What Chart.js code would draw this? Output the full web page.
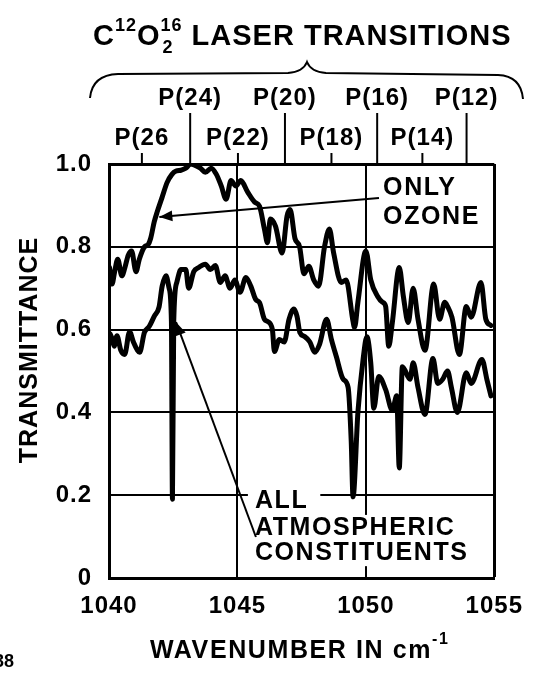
<!DOCTYPE html>
<html>
<head>
<meta charset="utf-8">
<script src="https://cdn.jsdelivr.net/npm/chart.js@4.4.1/dist/chart.umd.min.js"></script>
<style>
  html, body { margin: 0; padding: 0; background: #fff; }
</style>
</head>
<body>
<canvas id="chart" width="535" height="673"></canvas>
<script>
// spectra (wavenumber in cm-1, transmittance)
const ozoneWavenumber = [1040.02, 1040.12, 1040.22, 1040.34, 1040.5, 1040.62, 1040.75, 1040.88, 1041.05, 1041.18,
  1041.38, 1041.52, 1041.62, 1041.76, 1041.88, 1042.07, 1042.26, 1042.45, 1042.61, 1042.8,
  1042.99, 1043.18, 1043.4, 1043.56, 1043.75, 1043.98, 1044.18, 1044.37, 1044.56, 1044.75,
  1044.94, 1045.13, 1045.4, 1045.67, 1045.86, 1046.05, 1046.17, 1046.28, 1046.48, 1046.74,
  1046.93, 1047.05, 1047.24, 1047.42, 1047.59, 1047.78, 1047.97, 1048.16, 1048.39, 1048.58,
  1048.74, 1049.04, 1049.23, 1049.5, 1049.56, 1049.69, 1050.0, 1050.19, 1050.46, 1050.65,
  1050.77, 1050.89, 1051.03, 1051.3, 1051.46, 1051.65, 1051.84, 1052.03, 1052.3, 1052.64,
  1052.87, 1053.07, 1053.18, 1053.35, 1053.64, 1053.91, 1054.1, 1054.48, 1054.67, 1054.87]
const ozoneTransmittance = [0.75, 0.71, 0.74, 0.77, 0.73, 0.75, 0.78, 0.79, 0.74, 0.77,
  0.80, 0.805, 0.82, 0.86, 0.885, 0.92, 0.955, 0.975, 0.983, 0.985,
  0.99, 1.0, 0.995, 0.99, 0.98, 0.99, 0.975, 0.947, 0.915, 0.96,
  0.947, 0.96, 0.932, 0.908, 0.898, 0.843, 0.81, 0.867, 0.85, 0.785,
  0.874, 0.89, 0.82, 0.80, 0.735, 0.753, 0.72, 0.705, 0.80, 0.843,
  0.787, 0.714, 0.72, 0.62, 0.605, 0.666, 0.79, 0.72, 0.68, 0.666,
  0.656, 0.56, 0.617, 0.75, 0.68, 0.617, 0.70, 0.625, 0.55, 0.71,
  0.625, 0.666, 0.656, 0.63, 0.54, 0.656, 0.63, 0.714, 0.625, 0.61]

const allWavenumber = [1040.04, 1040.11, 1040.2, 1040.31, 1040.46, 1040.61, 1040.8, 1040.95, 1041.11, 1041.19,
  1041.38, 1041.57, 1041.76, 1041.95, 1042.07, 1042.22, 1042.34, 1042.43, 1042.47, 1042.52,
  1042.64, 1042.8, 1042.99, 1043.1, 1043.3, 1043.49, 1043.75, 1043.95, 1044.14, 1044.33,
  1044.52, 1044.71, 1044.9, 1045.1, 1045.33, 1045.52, 1045.71, 1045.86, 1046.05, 1046.17,
  1046.36, 1046.44, 1046.63, 1046.82, 1047.01, 1047.2, 1047.32, 1047.43, 1047.62, 1047.82,
  1048.01, 1048.2, 1048.47, 1048.66, 1048.85, 1049.12, 1049.31, 1049.43, 1049.5, 1049.69,
  1049.89, 1050.04, 1050.19, 1050.31, 1050.5, 1050.77, 1051.03, 1051.2, 1051.3, 1051.42,
  1051.72, 1051.84, 1052.03, 1052.3, 1052.61, 1052.8, 1052.99, 1053.18, 1053.33, 1053.56,
  1053.91, 1054.1, 1054.52, 1054.71, 1054.87]
const allTransmittance = [0.59, 0.58, 0.56, 0.585, 0.55, 0.54, 0.595, 0.57, 0.55, 0.545,
  0.593, 0.608, 0.632, 0.655, 0.705, 0.73, 0.70, 0.62, 0.19, 0.62,
  0.714, 0.745, 0.745, 0.70, 0.74, 0.75, 0.758, 0.745, 0.755, 0.714,
  0.73, 0.70, 0.72, 0.69, 0.726, 0.705, 0.673, 0.665, 0.625, 0.62,
  0.60, 0.547, 0.576, 0.57, 0.625, 0.65, 0.632, 0.593, 0.583, 0.57,
  0.545, 0.565, 0.625, 0.576, 0.535, 0.48, 0.46, 0.33, 0.196, 0.40,
  0.527, 0.583, 0.52, 0.41, 0.487, 0.455, 0.405, 0.44, 0.266, 0.51,
  0.48, 0.52, 0.46, 0.395, 0.53, 0.47, 0.48, 0.50, 0.46, 0.40,
  0.496, 0.47, 0.528, 0.48, 0.44]

// CO2 laser lines along the top (label as printed)
const laserLabels = ['P(12)', 'P(14)', 'P(16)', 'P(18)', 'P(20)', 'P(22)', 'P(24)', 'P(26']
const laserWavenumber = [1053.92, 1052.20, 1050.44, 1048.66, 1046.85, 1045.02, 1043.16, 1041.28]

const xTicks = [1040, 1045, 1050, 1055]
const yTicks = [0, 0.2, 0.4, 0.6, 0.8, 1.0]

const FAMILY = "'Liberation Sans', Arial, Helvetica, sans-serif"
const bold = size => `bold ${size}px ${FAMILY}`

// annotation anchors, in axis units
const ozoneNote = { x: 1050.67, y: [0.942, 0.872], lines: ['ONLY', 'OZONE'] }
const ozoneArrow = { from: [1050.51, 0.918], to: [1041.96, 0.872] }
const allNote = { x: 1045.68, y: [0.186, 0.121, 0.06], lines: ['ALL', 'ATMOSPHERIC', 'CONSTITUENTS'] }
const allArrow = { from: [1045.72, 0.099], to: [1042.61, 0.618] }

function toPoints(xs, ys) {
    return xs.map((x, i) => ({ x: x, y: ys[i] }))
}

function arrow(ctx, x1, y1, x2, y2, head) {
    const a = Math.atan2(y2 - y1, x2 - x1)
    const c = Math.cos(a), s = Math.sin(a)
    ctx.beginPath()
    ctx.moveTo(x1, y1)
    ctx.lineTo(x2, y2)
    ctx.stroke()
    ctx.beginPath()
    ctx.moveTo(x2, y2)
    ctx.lineTo(x2 - head * c + head * 0.42 * s, y2 - head * s - head * 0.42 * c)
    ctx.lineTo(x2 - head * c - head * 0.42 * s, y2 - head * s + head * 0.42 * c)
    ctx.closePath()
    ctx.fill()
}

const decorations = {
    id: 'decorations',
    beforeDraw(chart) {
        chart.ctx.letterSpacing = '1px'
    },
    afterDatasetsDraw(chart) {
        const ctx = chart.ctx
        const xs = chart.scales.x, ys = chart.scales.y
        const area = chart.chartArea
        ctx.save()
        ctx.fillStyle = '#000'
        ctx.strokeStyle = '#000'
        ctx.letterSpacing = '1px'

        // laser line ticks and labels above the plot
        ctx.lineWidth = 2
        ctx.textAlign = 'center'
        ctx.textBaseline = 'alphabetic'
        ctx.font = bold(24)
        laserWavenumber.forEach((w, i) => {
            const px = xs.getPixelForValue(w)
            const long = i % 2 === 0
            ctx.beginPath()
            ctx.moveTo(px, area.top)
            ctx.lineTo(px, long ? 113 : 153)
            ctx.stroke()
            ctx.fillText(laserLabels[i], px, long ? 105 : 145)
        })

        // curly brace
        ctx.lineWidth = 2
        ctx.beginPath()
        ctx.moveTo(90, 98)
        ctx.quadraticCurveTo(92, 75, 118, 74)
        ctx.lineTo(288, 73)
        ctx.quadraticCurveTo(303, 72, 307, 62)
        ctx.quadraticCurveTo(311, 72, 326, 73)
        ctx.lineTo(498, 75)
        ctx.quadraticCurveTo(521, 76, 523, 99)
        ctx.stroke()

        // title with super/subscripts
        ctx.textAlign = 'left'
        let x = 93
        const base = 45
        ctx.font = bold(29)
        ctx.fillText('C', x, base)
        x += ctx.measureText('C').width
        ctx.font = bold(18)
        ctx.fillText('12', x, base - 14)
        x += ctx.measureText('12').width
        ctx.font = bold(29)
        ctx.fillText('O', x, base)
        x += ctx.measureText('O').width
        ctx.font = bold(18)
        ctx.fillText('16', x, base - 14)
        ctx.fillText('2', x + 2, base + 8)
        x += ctx.measureText('16').width
        ctx.font = bold(29)
        ctx.fillText(' LASER TRANSITIONS', x, base)

        // y title
        ctx.save()
        ctx.translate(30, 350)
        ctx.rotate(-Math.PI / 2)
        ctx.textAlign = 'center'
        ctx.textBaseline = 'middle'
        ctx.font = bold(25)
        ctx.fillText('TRANSMITTANCE', 0, 0)
        ctx.restore()

        // x title
        ctx.letterSpacing = '1.6px'
        ctx.font = bold(25)
        ctx.textBaseline = 'alphabetic'
        const t = 'WAVENUMBER IN cm'
        ctx.fillText(t, 150, 658)
        const tw = ctx.measureText(t).width
        ctx.font = bold(16)
        ctx.fillText('-1', 150 + tw, 644)

        // figure number fragment
        ctx.letterSpacing = '0px'
        ctx.font = bold(18)
        ctx.textAlign = 'right'
        ctx.fillText('38', 14, 667)

        // annotations
        ctx.letterSpacing = '1.6px'
        ctx.textAlign = 'left'
        ctx.textBaseline = 'middle'
        ctx.font = bold(25)
        ozoneNote.lines.forEach((s, i) => {
            ctx.fillText(s, xs.getPixelForValue(ozoneNote.x), ys.getPixelForValue(ozoneNote.y[i]))
        })
        allNote.lines.forEach((s, i) => {
            const px = xs.getPixelForValue(allNote.x)
            const py = ys.getPixelForValue(allNote.y[i])
            const w = ctx.measureText(s).width
            ctx.fillStyle = '#fff'
            ctx.fillRect(px - 7, py - 13, w + 19, 26)
            ctx.fillStyle = '#000'
        })
        allNote.lines.forEach((s, i) => {
            ctx.fillText(s, xs.getPixelForValue(allNote.x), ys.getPixelForValue(allNote.y[i]))
        })

        ctx.lineWidth = 2
        for (const a of [ozoneArrow, allArrow]) {
            arrow(ctx,
                xs.getPixelForValue(a.from[0]), ys.getPixelForValue(a.from[1]),
                xs.getPixelForValue(a.to[0]), ys.getPixelForValue(a.to[1]), 13)
        }
        ctx.restore()
    }
}

const lineStyle = {
    borderColor: '#000',
    borderWidth: 5,
    pointRadius: 0,
    showLine: true,
    cubicInterpolationMode: 'monotone',
    borderJoinStyle: 'round',
    borderCapStyle: 'round'
}

new Chart(document.getElementById('chart'), {
    type: 'scatter',
    data: {
        datasets: [
            Object.assign({ label: 'Only ozone', data: toPoints(ozoneWavenumber, ozoneTransmittance) }, lineStyle),
            Object.assign({ label: 'All atmospheric constituents', data: toPoints(allWavenumber, allTransmittance) }, lineStyle)
        ]
    },
    options: {
        responsive: false,
        animation: false,
        events: [],
        layout: { padding: { top: 164, right: 32, left: 0, bottom: 0 } },
        plugins: { legend: { display: false }, tooltip: { enabled: false } },
        scales: {
            x: {
                type: 'linear',
                min: 1040,
                max: 1055,
                afterBuildTicks: s => { s.ticks = xTicks.map(v => ({ value: v })) },
                afterFit: s => { s.height = 95 },
                ticks: { color: '#000', font: { family: FAMILY, size: 24, weight: 'bold' }, padding: 14,
                    callback: v => String(v), maxRotation: 0, autoSkip: false },
                grid: { color: '#000', drawTicks: false, lineWidth: c => (c.tick && c.tick.value === 1055) ? 3 : 2 },
                border: { color: '#000', width: 3 }
            },
            y: {
                min: 0,
                max: 1,
                afterBuildTicks: s => { s.ticks = yTicks.map(v => ({ value: v })) },
                afterFit: s => { s.width = 109 },
                ticks: { color: '#000', font: { family: FAMILY, size: 24, weight: 'bold' }, padding: 17,
                    callback: v => v === 0 ? '0' : v.toFixed(1), autoSkip: false },
                grid: { color: '#000', drawTicks: false, lineWidth: c => (c.tick && c.tick.value === 1) ? 3 : 2 },
                border: { color: '#000', width: 3 }
            }
        }
    },
    plugins: [decorations]
})
</script>
</body>
</html>
